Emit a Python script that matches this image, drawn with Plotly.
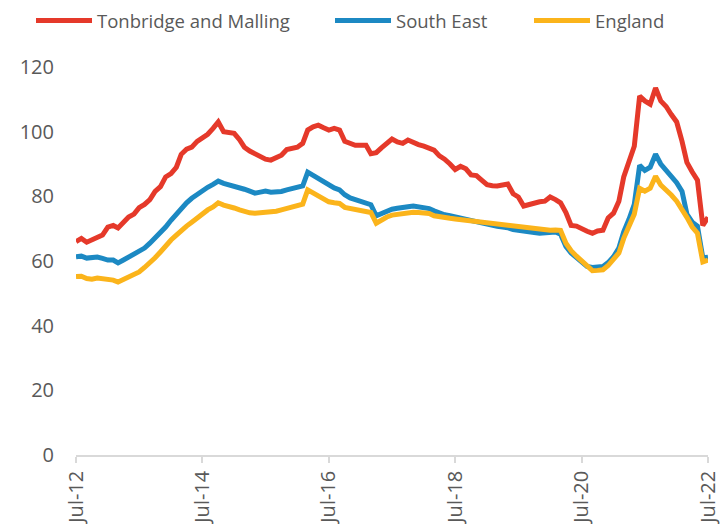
import pandas as pd
import plotly.graph_objects as go

months = pd.date_range("2012-07-01", "2022-07-01", freq="MS")

tonbridge = [
    66, 67, 65.8, 66.5, 67.4, 68, 70.5, 71, 70.2, 72,
    73.6, 74.5, 76.5, 77.5, 79, 81.5, 83, 86, 87, 89,
    93, 94.6, 95.2, 97, 98, 99.2, 101, 103, 100, 99.8,
    99.5, 97.5, 95.2, 94, 93.2, 92, 91.5, 91.2, 91.8, 92.7,
    94.5, 95, 95.2, 96.4, 100.5, 101.5, 102, 101.2, 100.5, 101,
    100.5, 97, 96.3, 95.8, 95.8, 95.8, 93.2, 93.5, 95, 96.5,
    97.7, 96.8, 96.4, 97.4, 96.5, 96, 95.5, 95, 94.3, 92.5,
    91.5, 90, 88.3, 89.3, 88.5, 86.6, 86.4, 85, 83.6, 83.3,
    83.2, 83.5, 83.8, 80.8, 79.8, 77, 77.5, 78, 78.3, 78.5,
    79.8, 79, 78, 75, 71, 70.8, 69.8, 69.2, 68.6, 69.3,
    69.5, 73.3, 74.8, 78.5, 86, 91.5, 95.5, 111, 109.5, 108.5,
    113.5, 109.5, 107.8, 105.3, 103, 97, 90.5, 87.5, 85, 71,
    73.5,
]

south_east = [
    61.3, 61.5, 60.9, 61, 61.2, 60.8, 60.3, 60.3, 59.4, 60.3,
    61.2, 62, 62.8, 64, 65.5, 67, 68.6, 70.5, 72.6, 74.5,
    76.4, 78, 79.4, 80.6, 82, 82.8, 83.7, 84.7, 84, 83.6,
    83.2, 82.7, 82.2, 81.6, 81, 81.3, 81.6, 81.3, 81.3, 81.5,
    82, 82.5, 82.8, 83.2, 87.5, 86.5, 85.3, 84.2, 83.2, 82.6,
    82, 80.5, 79.5, 79, 78.5, 78, 77.4, 74, 74.8, 75.4,
    76, 76.3, 76.7, 76.8, 77, 76.8, 76.5, 76.2, 75.5, 74.8,
    74.3, 74, 73.6, 73.2, 72.9, 72.6, 72.2, 71.8, 71.4, 71,
    70.7, 70.5, 70.3, 69.7, 69.4, 69.2, 69, 68.8, 68.6, 68.7,
    68.8, 69, 68.3, 64.5, 62.5, 61, 59.8, 58.3, 58, 58.1,
    58.3, 59.5, 61.3, 64, 69, 73, 77.5, 89.6, 88, 89,
    93, 90, 88, 86, 84.2, 81.5, 74.5, 72, 70.8, 61,
    61.2,
]

england = [
    55.2, 55.3, 54.6, 54.4, 54.7, 54.5, 54.1, 54.1, 53.5, 54.3,
    55, 55.8, 56.6, 58, 59.4, 61, 62.8, 64.7, 66.5, 68,
    69.5, 70.8, 72, 73.4, 74.8, 75.8, 76.7, 78, 77.3, 77,
    76.4, 75.8, 75.2, 74.9, 74.8, 74.9, 75.1, 75.1, 75.4, 75.8,
    76.3, 76.7, 77.1, 77.6, 82, 81, 80, 79, 78.3, 78,
    77.8, 76.6, 76.3, 76, 75.8, 75.4, 75, 71.7, 72.8, 73.6,
    74.2, 74.5, 74.8, 75, 75.1, 75, 74.9, 74.7, 74, 73.6,
    73.4, 73.2, 73, 72.8, 72.5, 72.3, 72.1, 71.9, 71.7, 71.5,
    71.3, 71.1, 71, 70.7, 70.4, 70.2, 70, 69.8, 69.6, 69.5,
    69.5, 69.6, 69.5, 65.5, 63.2, 61.5, 60, 58.3, 57, 57.1,
    57.3, 58.6, 60.5, 62.5, 67, 71, 74.5, 82.5, 81.6, 82.5,
    86.2, 83.5, 82, 80.4, 78.5, 76.2, 73.5, 70.5, 68.6, 59.7,
    60.3,
]

tick_vals = ["2012-07-01", "2014-07-01", "2016-07-01", "2018-07-01", "2020-07-01", "2022-07-01"]
tick_text = ["Jul-12", "Jul-14", "Jul-16", "Jul-18", "Jul-20", "Jul-22"]

series = [
    ("Tonbridge and Malling", tonbridge, "#E5392A", "legend"),
    ("South East", south_east, "#1C89C3", "legend2"),
    ("England", england, "#FBB41B", "legend3"),
]

fig = go.Figure()
for name, vals, color, lg in series:
    fig.add_trace(go.Scatter(x=months, y=vals, mode="lines", name=name, legend=lg,
                             line=dict(color=color, width=5)))

# the page body adds an 8px offset, so the figure is 8px smaller than the window
W, H = 720, 516
leg_y = 1 - 13 / H
leg_common = dict(orientation="h", xref="container", yref="container",
                  y=leg_y, xanchor="left", yanchor="middle",
                  font=dict(size=18.5, color="#595959"), itemwidth=56,
                  bgcolor="rgba(0,0,0,0)")

fig.update_layout(
    width=W, height=H,
    margin=dict(l=68, r=20, t=59, b=69, autoexpand=False),
    plot_bgcolor="white", paper_bgcolor="white",
    font=dict(family="Open Sans", size=20, color="#595959"),
    showlegend=True,
    legend=dict(x=(37 - 14) / W, **leg_common),
    legend2=dict(x=(336 - 14) / W, **leg_common),
    legend3=dict(x=(535 - 14) / W, **leg_common),
    xaxis=dict(range=["2012-07-01", "2022-07-01"], tickvals=tick_vals, ticktext=tick_text,
               tickangle=-90, showgrid=False, showline=True, linecolor="#D9D9D9", linewidth=1.5,
               ticks="outside", ticklen=6, tickcolor="#D9D9D9", tickwidth=1.5,
               tickfont=dict(size=20), zeroline=False, automargin=False, ticklabelstandoff=0),
    yaxis=dict(range=[0, 120], dtick=20, showgrid=False, showline=False, zeroline=False,
               ticks="", tickfont=dict(size=20), ticklabelstandoff=21, automargin=False),
)

fig.write_html("out.html")
